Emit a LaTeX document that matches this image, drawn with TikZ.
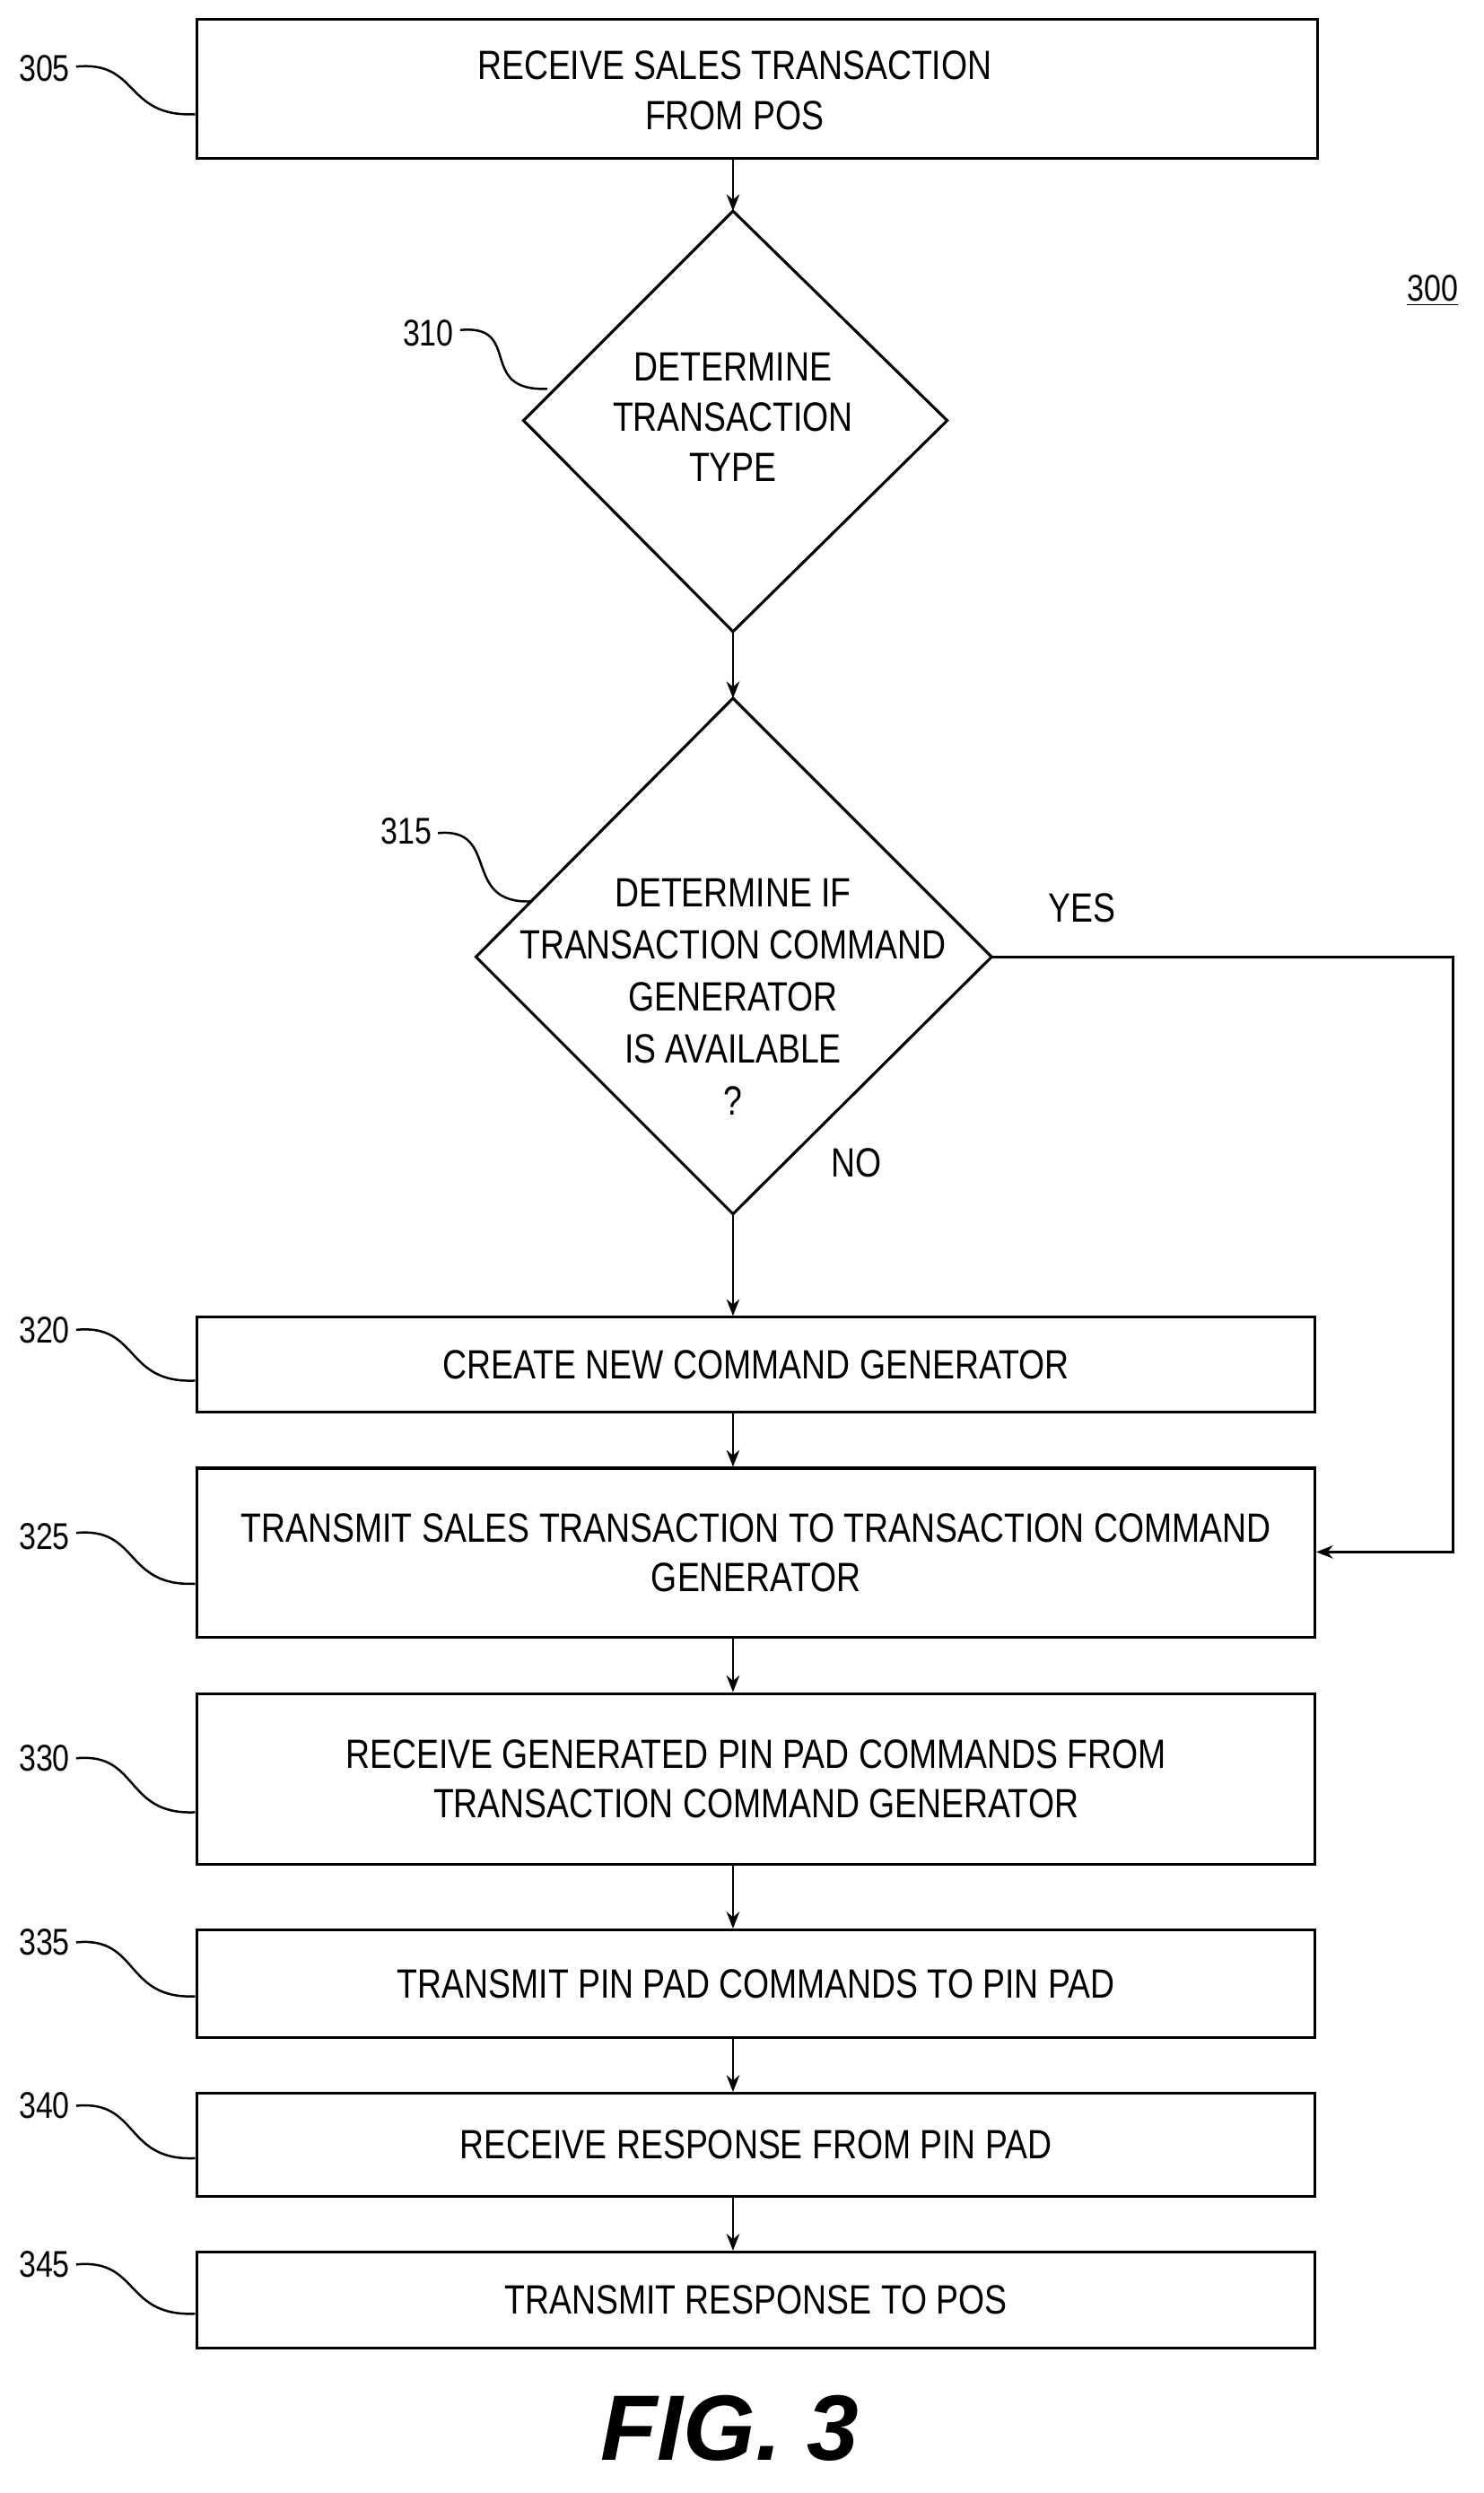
\documentclass[tikz,border=0pt]{standalone}
\usepackage{fontspec}
\setmainfont{Liberation Sans}[FakeStretch=0.82]
\newfontfamily\figfont{Liberation Sans}
\usetikzlibrary{arrows.meta,calc}
\begin{document}
\begin{tikzpicture}[x=0.03cm,y=-0.03cm,
  box/.style={draw,line width=1.5pt,inner sep=0,align=center,font=\fontsize{22}{27}\selectfont},
  txt/.style={align=center,font=\fontsize{22}{27}\selectfont},
  lbl/.style={font=\fontsize{20}{24}\selectfont},
  arr/.style={line width=1.4pt,-{Stealth[length=9pt,width=7pt]}},
  lead/.style={line width=1.2pt}]
\useasboundingbox (0,0) rectangle (935,1571);
\newcommand\mybox[6]{\node[box,minimum width={(#3-#2)*0.8504pt},minimum height={(#5-#4)*0.8504pt}] (#1) at ({(#2+#3)/2},{(#4+#5)/2}) {#6};}
\mybox{b305}{123}{832}{12}{100}{}
\node[txt] (t305) at (463,57) {RECEIVE SALES TRANSACTION\\FROM POS};
\mybox{b320}{123}{830}{830}{890}{CREATE NEW COMMAND GENERATOR}
\mybox{b325}{123}{830}{925}{1032}{TRANSMIT SALES TRANSACTION TO TRANSACTION COMMAND\\GENERATOR}
\mybox{b330}{123}{830}{1067}{1175}{RECEIVE GENERATED PIN PAD COMMANDS FROM\\TRANSACTION COMMAND GENERATOR}
\mybox{b335}{123}{830}{1216}{1284}{TRANSMIT PIN PAD COMMANDS TO PIN PAD}
\mybox{b340}{123}{830}{1319}{1384}{RECEIVE RESPONSE FROM PIN PAD}
\mybox{b345}{123}{830}{1419}{1480}{TRANSMIT RESPONSE TO POS}
% diamond 310
\coordinate (d1t) at (462,133); \coordinate (d1b) at (462,398);
\coordinate (d1l) at (330,265); \coordinate (d1r) at (597,265);
\draw[line width=1.5pt] (d1t)--(d1r)--(d1b)--(d1l)--cycle;
\node[txt] (t310) at (462,263) {DETERMINE\\TRANSACTION\\TYPE};
% diamond 315
\coordinate (d2t) at (462,440); \coordinate (d2b) at (462,765);
\coordinate (d2l) at (300,603); \coordinate (d2r) at (625,603);
\draw[line width=1.5pt] (d2t)--(d2r)--(d2b)--(d2l)--cycle;
\node[txt,font=\fontsize{22}{28}\selectfont] (t315) at (462,628) {DETERMINE IF\\TRANSACTION COMMAND\\GENERATOR\\IS AVAILABLE\\?};
\node[txt] (yes) at (682,572) {YES};
\node[txt] (no) at (540,733) {NO};
\node[lbl] (l300) at (903,183) {\underline{300}};
% arrows
\draw[arr] (b305.south -| d1t) -- (d1t);
\draw[arr] (d1b) -- (d2t);
\draw[arr] (d2b) -- (b320.north -| d2b);
\draw[arr] (b320.south -| d2b) -- (b325.north -| d2b);
\draw[arr] (b325.south -| d2b) -- (b330.north -| d2b);
\draw[arr] (b330.south -| d2b) -- (b335.north -| d2b);
\draw[arr] (b335.south -| d2b) -- (b340.north -| d2b);
\draw[arr] (b340.south -| d2b) -- (b345.north -| d2b);
\coordinate (c1) at (916,603); \coordinate (c2) at (916,978);
\draw[arr] (d2r) -- (c1) -- (c2) -- (b325.east|-c2);
% reference labels with leaders
\newcommand\reflab[7]{\node[lbl] (l#1) at (#2,#3) {#1};
  \coordinate (s#1) at (#4,#5); \coordinate (e#1) at (#6,#7);
  \draw[lead] (s#1) .. controls ($(s#1)+(40,-4)$) and ($(e#1)+(-45,2)$) .. (e#1);}
\reflab{305}{28}{43}{48}{42}{123}{72}
\reflab{310}{270}{210}{290}{208}{345}{245}
\reflab{315}{256}{524}{276}{525}{335}{568}
\reflab{320}{28}{838}{48}{838}{123}{870}
\reflab{325}{28}{968}{48}{966}{123}{998}
\reflab{330}{28}{1108}{48}{1108}{123}{1142}
\reflab{335}{28}{1224}{48}{1224}{123}{1258}
\reflab{340}{28}{1327}{48}{1327}{123}{1360}
\reflab{345}{28}{1427}{48}{1427}{123}{1458}
\node[font=\figfont\fontsize{50}{56}\selectfont\bfseries\itshape] (fig) at (460,1530) {FIG. 3};
\end{tikzpicture}
\end{document}
